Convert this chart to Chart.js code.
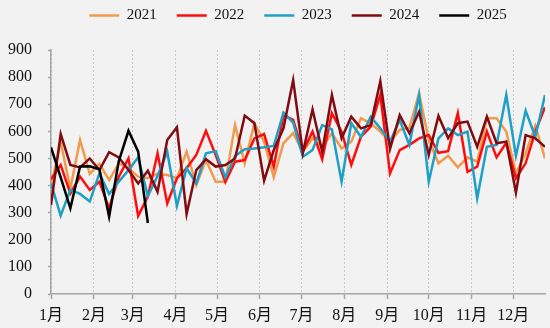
<!DOCTYPE html>
<html>
<head>
<meta charset="utf-8">
<script src="https://cdn.jsdelivr.net/npm/chart.js@4"></script>
<style>
  html, body { margin: 0; padding: 0; background: #f2f2f2; }
  #wrap { width: 550px; height: 328px; }
</style>
</head>
<body>
<div id="wrap"><canvas id="weekly-chart" width="550" height="328"></canvas></div>
<script>
// Weekly values, one entry per week of the year
const years = ['2021', '2022', '2023', '2024', '2025'];

const values2021 = [395, 560, 390, 568, 443, 480, 420, 482, 464, 433, 427, 443, 439, 427, 525, 402,
    494, 414, 414, 623, 482, 630, 562, 430, 556, 593, 525, 574, 543, 593, 537, 562,
    648, 630, 599, 562, 605, 613, 740, 568, 482, 510, 467, 504, 488, 648, 648, 599,
    445, 519, 620, 500];
const values2022 = [423, 476, 371, 433, 384, 414, 316, 433, 500, 288, 359, 519, 334, 427, 464, 513,
    602, 513, 413, 488, 494, 574, 590, 470, 660, 642, 525, 599, 497, 667, 599, 476,
    580, 617, 734, 445, 531, 550, 574, 586, 521, 527, 667, 451, 470, 599, 504, 558,
    427, 482, 599, 689];
const values2023 = [408, 289, 384, 369, 341, 445, 369, 414, 457, 504, 361, 435, 525, 325, 464, 408,
    519, 527, 430, 509, 534, 537, 541, 546, 669, 632, 506, 531, 623, 607, 414, 630,
    580, 654, 611, 562, 642, 550, 734, 414, 574, 611, 586, 599, 353, 543, 550, 734,
    509, 676, 580, 734];
const values2024 = [328, 590, 476, 467, 500, 457, 523, 504, 457, 408, 455, 377, 568, 615, 295, 457,
    497, 470, 476, 500, 658, 630, 418, 531, 611, 789, 521, 681, 525, 734, 574, 654,
    611, 623, 785, 535, 660, 593, 672, 513, 657, 575, 630, 636, 543, 654, 556, 562,
    374, 586, 574, 543];
const values2025 = [541, 430, 316, 470, 471, 460, 285, 490, 602, 525, 262];

// Month ticks: label and first day of the month (day of year)
const monthLabels = ['1月', '2月', '3月', '4月', '5月', '6月', '7月', '8月', '9月', '10月', '11月', '12月'];
const monthStartDays = [0, 31, 59, 90, 120, 151, 181, 212, 243, 273, 304, 334];

const yTicks = [0, 100, 200, 300, 400, 500, 600, 700, 800, 900];

// Colors
const colors = ['#f09b4c', '#ff0d0d', '#1f9fc6', '#820b12', '#000000'];

const axisGrey = '#a6a6a6';
const serif = "'Liberation Serif', 'Noto Sans CJK SC', serif";

function toPoints(values) {
    return values.map((v, i) => ({ x: i, y: v }));
}

// Give the legend a fixed height so the plot starts lower down
const legendHeight = {
    id: 'legendHeight',
    beforeLayout(chart) {
        const legend = chart.legend;
        if (!legend || legend._fixedFit) return;
        const fit = legend.fit;
        legend.fit = function() {
            fit.call(this);
            this.height = 62;
        };
        legend._fixedFit = true;
    }
};

document.addEventListener('DOMContentLoaded', function() {
    const series = [values2021, values2022, values2023, values2024, values2025];

    const datasets = series.map((vals, i) => ({
        label: years[i],
        data: toPoints(vals),
        borderColor: colors[i],
        backgroundColor: colors[i],
        borderWidth: 2.5,
        pointRadius: 0,
        tension: 0,
        order: series.length - i // later years on top
    }));

    new Chart(document.getElementById('weekly-chart'), {
        type: 'line',
        data: { datasets: datasets },
        plugins: [legendHeight],
        options: {
            responsive: false,
            animation: false,
            layout: { padding: { left: 0, right: 5, top: -12, bottom: 0 } },
            scales: {
                x: {
                    type: 'linear',
                    min: 0,
                    max: 51,
                    afterBuildTicks: function(scale) {
                        scale.ticks = monthStartDays.map(d => ({ value: d / 7 }));
                    },
                    ticks: {
                        autoSkip: false,
                        maxRotation: 0,
                        padding: 7,
                        color: '#111',
                        font: { family: serif, size: 16 },
                        callback: function(value, index) {
                            return monthLabels[index];
                        }
                    },
                    grid: {
                        color: '#c9c9c9',
                        lineWidth: 1,
                        tickColor: axisGrey,
                        tickLength: 5,
                        tickWidth: 1.5,
                        tickBorderDash: []
                    },
                    border: { color: axisGrey, width: 1.5, dash: [2, 2] },
                    afterFit: function(scale) { scale.height = 34; }
                },
                y: {
                    min: 0,
                    max: 900,
                    afterBuildTicks: function(scale) {
                        scale.ticks = yTicks.map(v => ({ value: v }));
                    },
                    ticks: {
                        padding: 16,
                        color: '#111',
                        font: { family: serif, size: 16 }
                    },
                    grid: {
                        drawOnChartArea: false,
                        color: axisGrey,
                        tickLength: 3,
                        tickWidth: 1.5
                    },
                    border: { color: axisGrey, width: 1.5 },
                    afterFit: function(scale) { scale.width = 51; }
                }
            },
            plugins: {
                legend: {
                    position: 'top',
                    fullSize: false,
                    labels: {
                        usePointStyle: true,
                        pointStyle: 'line',
                        pointStyleWidth: 30,
                        boxHeight: 3,
                        padding: 20,
                        color: '#111',
                        font: { family: serif, size: 15 },
                        sort: (a, b) => a.datasetIndex - b.datasetIndex
                    }
                },
                tooltip: { enabled: false }
            }
        }
    });
});
</script>
</body>
</html>
